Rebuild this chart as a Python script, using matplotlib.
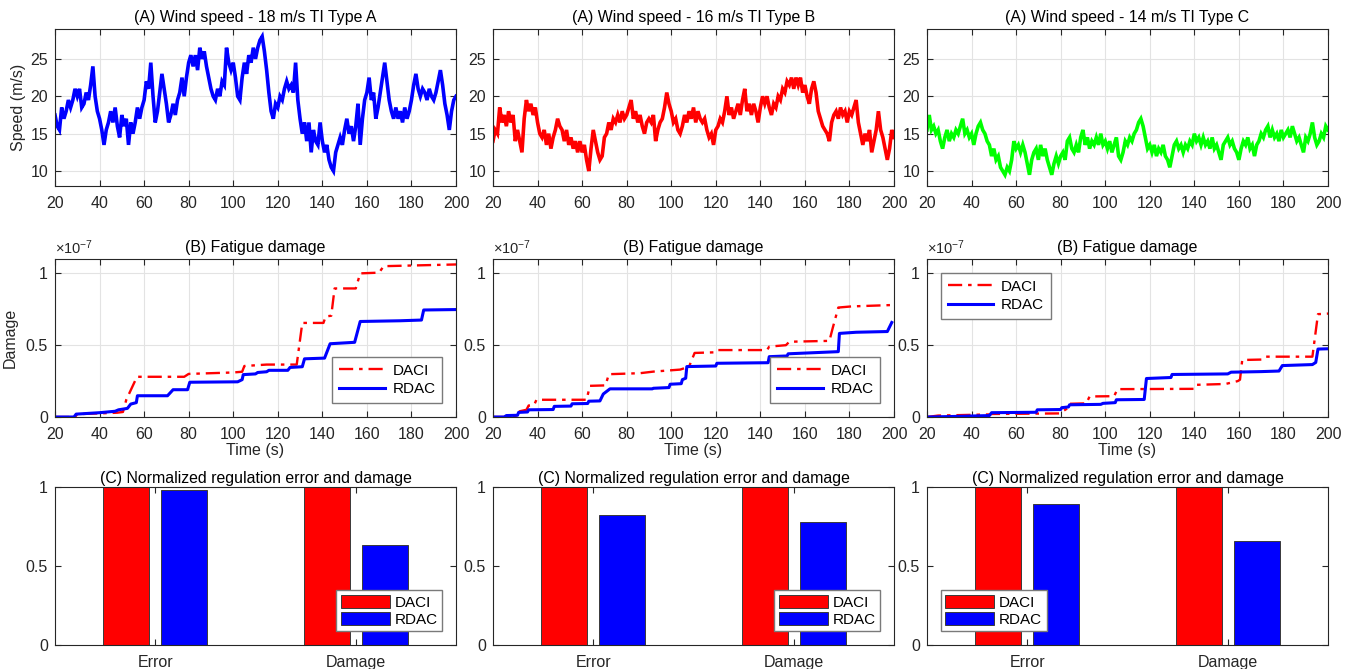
import numpy as np
import matplotlib
matplotlib.use("Agg")
import matplotlib.pyplot as plt

plt.rcParams['font.family'] = ['Liberation Sans', 'DejaVu Sans']
plt.rcParams['mathtext.fontset'] = 'custom'
plt.rcParams['mathtext.rm'] = 'Liberation Sans'
plt.rcParams['mathtext.it'] = 'Liberation Sans'

# ---------------- data ----------------
time_wind = list(range(20, 201))

wind_A = [17.5, 16.0, 15.5, 18.5, 17.0, 18.0, 19.5, 18.5, 19.5, 21.0,
          20.0, 21.0, 18.5, 19.0, 20.5, 19.5, 21.5, 24.0, 20.0, 18.0,
          17.0, 15.5, 13.5, 15.5, 16.5, 18.0, 16.5, 18.5, 16.0, 14.5,
          17.5, 16.0, 17.0, 13.5, 16.5, 15.0, 16.5, 18.5, 17.0, 18.5,
          19.5, 22.0, 21.0, 24.5, 20.0, 16.5, 18.0, 20.5, 23.0, 21.0,
          19.0, 16.5, 17.5, 19.0, 17.5, 19.5, 20.5, 22.5, 20.0, 22.5,
          24.5, 25.5, 24.0, 25.5, 23.5, 26.5, 25.0, 26.0, 24.0, 22.5,
          21.0, 20.0, 19.5, 21.0, 20.0, 22.0, 21.5, 26.5, 24.5, 23.5,
          24.5, 22.5, 20.0, 19.5, 22.5, 24.5, 23.0, 25.5, 24.5, 26.5,
          25.0, 26.5, 27.5, 28.0, 26.0, 23.5, 20.5, 18.0, 17.0, 19.0,
          18.5, 20.0, 19.5, 21.0, 22.0, 21.0, 21.5, 20.5, 24.5, 19.5,
          17.0, 15.0, 16.5, 14.0, 16.5, 12.5, 15.5, 14.0, 13.5, 16.5,
          14.0, 12.5, 13.5, 11.5, 10.5, 10.0, 12.5, 13.5, 14.5, 13.5,
          15.5, 17.0, 15.0, 16.0, 14.0, 16.0, 19.0, 13.5, 17.0, 19.5,
          20.5, 22.5, 19.5, 20.5, 17.0, 18.5, 20.5, 22.5, 24.5, 22.0,
          19.5, 18.0, 17.0, 18.5, 17.0, 18.0, 16.5, 18.5, 17.0, 18.0,
          19.5, 21.5, 23.0, 21.0, 20.0, 21.0, 20.5, 19.5, 21.0, 20.0,
          19.5, 20.5, 22.0, 23.5, 21.5, 19.0, 17.5, 15.5, 18.0, 19.5,
          20.0]

wind_B = [14.0, 15.5, 15.0, 18.5, 16.5, 17.5, 16.0, 18.0, 16.5, 17.5,
          14.0, 15.5, 14.0, 12.5, 17.0, 19.5, 18.0, 19.0, 17.5, 18.5,
          16.5, 15.0, 14.5, 15.5, 13.5, 15.0, 13.0, 14.5, 15.5, 17.0,
          16.0, 15.5, 14.0, 15.5, 13.5, 14.5, 13.0, 14.0, 12.5, 14.0,
          12.5, 13.5, 11.5, 10.0, 13.0, 15.5, 14.0, 12.5, 11.5, 12.0,
          14.5, 15.0, 16.5, 15.5, 17.0, 16.5, 17.5, 16.5, 18.0, 17.0,
          17.5, 18.5, 19.5, 17.0, 18.0, 16.5, 17.5, 16.0, 15.0, 16.5,
          17.0, 16.5, 17.5, 14.0, 15.5, 16.5, 17.0, 18.5, 20.5, 19.0,
          18.0, 16.5, 17.0, 15.5, 15.0, 16.0, 17.5, 16.5, 18.0, 17.0,
          18.5, 16.5, 18.0, 17.0, 16.5, 17.0, 15.5, 14.5, 15.0, 13.5,
          15.5, 16.0, 17.0, 16.5, 18.0, 20.0, 17.5, 18.5, 17.0, 18.0,
          19.0, 17.5, 19.5, 21.0, 18.0, 19.0, 17.5, 19.0, 18.0, 16.5,
          18.5, 20.0, 19.0, 20.0, 18.5, 17.5, 19.0, 18.5, 20.0, 19.5,
          21.0, 20.5, 22.0, 21.5, 22.5, 21.0, 22.5, 21.5, 22.5, 20.5,
          21.5, 20.0, 19.0, 21.0, 22.0, 20.5, 18.0, 17.0, 16.0, 15.5,
          15.0, 14.0, 16.5, 17.5, 18.0, 17.0, 18.5, 17.5, 18.0, 16.5,
          18.0, 17.5, 18.5, 19.5, 16.5, 15.0, 13.5, 15.0, 14.0, 15.5,
          12.5, 14.0, 15.5, 18.0, 15.5, 14.5, 13.0, 11.5, 13.0, 15.5,
          14.5]

wind_C = [15.5, 17.5, 15.5, 16.0, 15.0, 15.5, 14.0, 13.0, 14.5, 15.5,
          14.0, 15.0, 14.5, 15.5, 15.0, 16.0, 17.0, 15.0, 15.5, 14.5,
          15.0, 13.5, 15.0, 16.0, 16.5, 15.5, 15.0, 14.0, 13.5, 12.0,
          13.0, 11.5, 12.0, 10.5, 10.0, 9.5, 10.5, 10.0, 11.5, 14.0,
          13.0, 13.5, 12.5, 13.5, 12.5, 11.0, 9.5, 11.5, 12.5, 13.0,
          11.5, 13.5, 12.0, 13.0, 11.5, 10.5, 9.5, 11.0, 12.0, 11.0,
          12.0, 12.5, 11.5, 14.0, 14.5, 13.0, 12.5, 13.5, 12.5, 14.5,
          15.5, 13.5, 14.5, 13.0, 14.0, 13.5, 14.5, 13.5, 15.0, 13.5,
          14.0, 13.0, 14.0, 12.5, 13.5, 14.5, 12.0, 11.5, 12.5, 14.0,
          13.5, 14.5, 14.0, 15.0, 15.5, 16.5, 17.0, 16.0, 14.5, 13.0,
          13.5, 12.5, 13.5, 12.0, 13.0, 12.5, 13.5, 12.0, 11.5, 10.5,
          12.0, 13.5, 14.0, 13.0, 13.5, 12.5, 13.5, 13.0, 14.0, 13.5,
          15.0, 14.0, 14.5, 13.5, 14.5, 13.5, 14.0, 13.0, 14.5, 13.0,
          13.5, 12.5, 11.5, 13.5, 14.0, 14.5, 13.5, 14.0, 13.0, 12.5,
          11.5, 13.0, 14.0, 13.5, 14.5, 13.0, 13.5, 12.0, 13.5, 14.0,
          15.0, 14.5, 15.5, 16.0, 14.5, 15.5, 14.5, 15.0, 14.0, 15.5,
          14.5, 15.0, 15.5, 14.5, 16.0, 15.0, 14.0, 14.5, 13.5, 12.5,
          14.5, 14.0, 15.0, 16.5, 14.5, 13.5, 14.0, 15.0, 14.5, 16.0,
          15.5]

wind_titles = ['(A) Wind speed - 18 m/s TI Type A',
               '(A) Wind speed - 16 m/s TI Type B',
               '(A) Wind speed - 14 m/s TI Type C']
wind_colors = ['#0000ff', '#ff0000', '#00ff00']

# fatigue damage (units of 1e-7)
tA_daci = [20, 29, 30, 40, 48, 50.5, 52, 56.8, 78, 80, 100, 104, 105, 115, 128.5, 131,
           140.5, 141.5, 144, 145.5, 155, 157, 165.5, 167.5, 200]
dA_daci = [0, 0, 0.02, 0.025, 0.03, 0.035, 0.12, 0.28, 0.28, 0.30, 0.31, 0.315, 0.355,
           0.365, 0.365, 0.655, 0.655, 0.70, 0.705, 0.895, 0.895, 1.0, 1.005, 1.05, 1.062]
tA_rdac = [20, 28.5, 29.5, 40, 47, 48.5, 52.5, 54, 56.5, 57, 70.5, 73, 79.5, 80.5, 102,
           104, 104.5, 110, 111, 115, 116, 124.5, 125.5, 131, 132, 141, 143.5, 154.5,
           157, 175, 184.5, 185.5, 200]
dA_rdac = [0, 0, 0.02, 0.03, 0.04, 0.05, 0.06, 0.09, 0.10, 0.148, 0.148, 0.19, 0.19,
           0.242, 0.245, 0.26, 0.295, 0.30, 0.31, 0.315, 0.325, 0.325, 0.345, 0.35,
           0.405, 0.41, 0.51, 0.52, 0.665, 0.67, 0.675, 0.745, 0.748]

tB_daci = [20, 31, 32, 35, 36, 38.5, 39.5, 62, 63.5, 70.5, 72, 86, 92, 104, 108, 110.5,
           119, 120, 143, 144, 151.5, 153, 171, 172.5, 175, 181, 200]
dB_daci = [0, 0, 0.04, 0.05, 0.08, 0.085, 0.12, 0.12, 0.217, 0.22, 0.298, 0.305, 0.316,
           0.33, 0.35, 0.446, 0.45, 0.466, 0.466, 0.49, 0.50, 0.524, 0.53, 0.62, 0.762,
           0.77, 0.78]
tB_rdac = [20, 25, 26, 31, 31.5, 35.5, 36, 47, 47.5, 55, 55.5, 62.5, 63, 68, 69.5, 72.5,
           91.5, 92, 99, 99.5, 104.5, 105, 106.5, 107, 120, 120.5, 143.5, 144, 152,
           152.5, 175, 175.5, 183, 197, 199]
dB_rdac = [0, 0, 0.01, 0.012, 0.032, 0.035, 0.05, 0.052, 0.074, 0.076, 0.092, 0.094,
           0.11, 0.112, 0.16, 0.196, 0.196, 0.20, 0.205, 0.228, 0.232, 0.26, 0.27, 0.351,
           0.355, 0.374, 0.378, 0.42, 0.425, 0.44, 0.455, 0.582, 0.59, 0.595, 0.658]

tC_daci = [20, 25, 40, 48, 49, 79.5, 83, 84, 91.5, 93, 104, 105.5, 140, 141, 154, 159.5,
           160.5, 161.5, 170.5, 172, 193, 195.5, 200]
dC_daci = [0, 0.01, 0.015, 0.018, 0.021, 0.025, 0.06, 0.092, 0.095, 0.143, 0.145, 0.194,
           0.196, 0.224, 0.23, 0.25, 0.26, 0.397, 0.40, 0.42, 0.42, 0.716, 0.72]
tC_rdac = [20, 30, 48, 49, 69, 69.5, 80, 80.5, 83.5, 84, 98, 99, 104.5, 105, 117.5, 118.5,
           129.5, 130, 155, 156.5, 170, 178, 179.5, 193, 194.5, 195.5, 200]
dC_rdac = [0, 0.003, 0.01, 0.03, 0.033, 0.05, 0.052, 0.065, 0.07, 0.085, 0.088, 0.095,
           0.10, 0.12, 0.122, 0.268, 0.275, 0.296, 0.30, 0.312, 0.316, 0.32, 0.358,
           0.365, 0.38, 0.473, 0.475]

bar_categories = ['Error', 'Damage']
bars_daci = [[1.0, 1.0], [1.0, 1.0], [1.0, 1.0]]
bars_rdac = [[0.98, 0.63], [0.82, 0.78], [0.89, 0.66]]
method_names = ['DACI', 'RDAC']

# ---------------- figure ----------------
W, H = 1352, 669
fig = plt.figure(figsize=(W / 100, H / 100), dpi=100)

col_left = [55, 493, 927]
ax_w = 401
rows = [(29, 186), (259, 417), (487, 645)]

AX_COL = '#262626'
GRID_COL = '#e3e3e3'
TICK_FS = 11.5
TITLE_FS = 11.4
LEG_FS = 11


def make_ax(r, c):
    top, bot = rows[r]
    ax = fig.add_axes([col_left[c] / W, 1 - bot / H, ax_w / W, (bot - top) / H])
    for s in ax.spines.values():
        s.set_color(AX_COL)
        s.set_linewidth(0.8)
    ax.tick_params(direction='in', length=4, width=0.8, color=AX_COL,
                   labelcolor=AX_COL, labelsize=TICK_FS, top=True, right=True)
    ax.tick_params(axis='x', pad=7)
    ax.tick_params(axis='y', pad=5)
    return ax


def style_legend(leg):
    fr = leg.get_frame()
    fr.set_edgecolor('#7a7a7a')
    fr.set_linewidth(1.0)
    fr.set_boxstyle('square', pad=0)


winds = [wind_A, wind_B, wind_C]
dam = [(tA_daci, dA_daci, tA_rdac, dA_rdac),
       (tB_daci, dB_daci, tB_rdac, dB_rdac),
       (tC_daci, dC_daci, tC_rdac, dC_rdac)]
leg_loc_dam = ['lower right', 'lower right', 'upper left']
leg_loc_bar = ['lower right', 'lower right', 'lower left']

for c in range(3):
    # row 1: wind speed
    ax = make_ax(0, c)
    ax.plot(time_wind, winds[c], color=wind_colors[c], lw=2.6, solid_joinstyle='miter')
    ax.set_xlim(20, 200)
    ax.set_ylim(8, 29)
    ax.set_xticks(range(20, 201, 20))
    ax.set_yticks([10, 15, 20, 25])
    ax.grid(True, color=GRID_COL, lw=0.8)
    ax.set_axisbelow(True)
    ax.set_title(wind_titles[c], fontsize=TITLE_FS, color='black', pad=5)
    if c == 0:
        ax.set_ylabel('Speed (m/s)', fontsize=TICK_FS, color=AX_COL, labelpad=3)

    # row 2: fatigue damage
    ax = make_ax(1, c)
    td, dd, tr, dr = dam[c]
    ax.plot(td, dd, color='#ff0000', lw=1.7, ls=(0, (6, 2.5, 1.5, 2.5)), label=method_names[0])
    ax.plot(tr, dr, color='#0000ff', lw=2.2, label=method_names[1])
    ax.set_xlim(20, 200)
    ax.set_ylim(0, 1.1)
    ax.set_xticks(range(20, 201, 20))
    ax.set_yticks([0, 0.5, 1])
    ax.set_yticklabels(['0', '0.5', '1'])
    ax.grid(True, color=GRID_COL, lw=0.8)
    ax.set_axisbelow(True)
    ax.set_title('(B) Fatigue damage', fontsize=TITLE_FS, color='black', pad=5)
    ax.set_xlabel('Time (s)', fontsize=TICK_FS, color=AX_COL, labelpad=1)
    ax.text(0.0, 1.015, r'$\times10^{-7}$', transform=ax.transAxes, fontsize=10.5,
            color=AX_COL, ha='left', va='bottom')
    if c == 0:
        ax.set_ylabel('Damage', fontsize=TICK_FS, color=AX_COL, labelpad=6)
    leg = ax.legend(loc=leg_loc_dam[c], fontsize=LEG_FS, fancybox=False, framealpha=1,
                    handlelength=3.0, borderaxespad=0.9, borderpad=0.45,
                    labelspacing=0.3, handletextpad=0.5)
    style_legend(leg)

    # row 3: bars
    ax = make_ax(2, c)
    x = np.arange(1, len(bar_categories) + 1)
    ax.bar(x - 0.145, bars_daci[c], width=0.23, color='#ff0000', edgecolor='#3a3a3a',
           lw=0.7, label=method_names[0])
    ax.bar(x + 0.145, bars_rdac[c], width=0.23, color='#0000ff', edgecolor='#3a3a3a',
           lw=0.7, label=method_names[1])
    ax.set_xlim(0.5, 2.5)
    ax.set_ylim(0, 1)
    ax.set_xticks(x)
    ax.set_xticklabels(bar_categories)
    ax.set_yticks([0, 0.5, 1])
    ax.set_yticklabels(['0', '0.5', '1'])
    ax.set_title('(C) Normalized regulation error and damage', fontsize=TITLE_FS,
                 color='black', pad=3)
    leg = ax.legend(loc=leg_loc_bar[c], fontsize=LEG_FS, fancybox=False, framealpha=1,
                    handlelength=3.2, handleheight=0.95, borderaxespad=0.9,
                    borderpad=0.3, labelspacing=0.15, handletextpad=0.3)
    style_legend(leg)

fig.savefig('out.png', dpi=100)
